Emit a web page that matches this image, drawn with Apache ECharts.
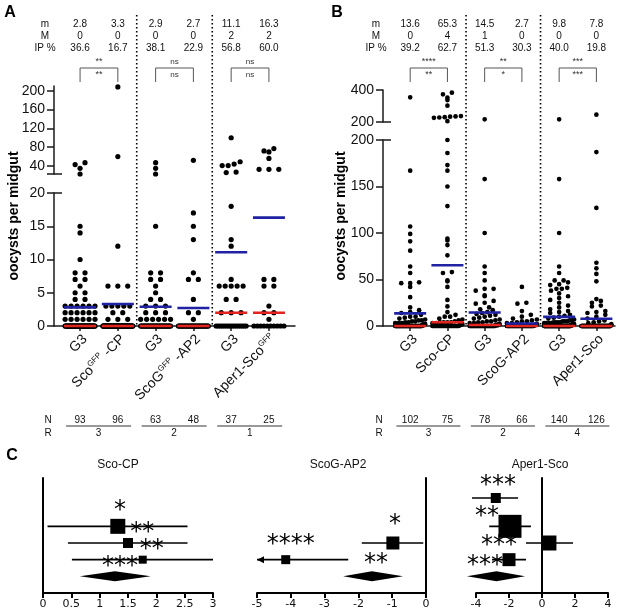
<!DOCTYPE html>
<html><head><meta charset="utf-8">
<script src="https://cdn.jsdelivr.net/npm/echarts@6/dist/echarts.min.js"></script>
<style>html,body{margin:0;padding:0;background:#fff}#c{width:617px;height:613px}</style>
</head><body><div id="c"></div>
<script>
// ================= DATA =================
const catsA = ['G3', 'Sco<sup>GFP</sup> -CP', 'G3', 'ScoG<sup>GFP</sup> -AP2', 'G3', 'Aper1-Sco<sup>GFP</sup>'];
const catsB = ['G3', 'Sco-CP', 'G3', 'ScoG-AP2', 'G3', 'Aper1-Sco'];
const statLabels = ['m', 'M', 'IP %'];
// panel A stats
const meanA = [2.8, 3.3, 2.9, 2.7, 11.1, 16.3];
const medianA = [0, 0, 0, 0, 2, 2];
const ipA = [36.6, 16.7, 38.1, 22.9, 56.8, 60.0];
const nA = [93, 96, 63, 48, 37, 25];
const rA = [3, 2, 1];
const sigTopA = ['**', 'ns', 'ns'];
const sigBotA = ['**', 'ns', 'ns'];
// panel B stats
const meanB = [13.6, 65.3, 14.5, 2.7, 9.8, 7.8];
const medianB = [0, 4, 1, 0, 0, 0];
const ipB = [39.2, 62.7, 51.3, 30.3, 40.0, 19.8];
const nB = [102, 75, 78, 66, 140, 126];
const rB = [3, 2, 4];
const sigTopB = ['****', '**', '***'];
const sigBotB = ['**', '*', '***'];
// non-zero oocyst counts per midgut (remaining N - length are zeros)
const posA0 = [47, 43, 35, 23, 15, 14, 10, 8, 8, 7, 7, 6, 5, 5, 4, 4, 3, 3, 3, 3, 3, 3, 2, 2, 2, 2, 2, 2, 1, 1, 1, 1, 1, 1];
const posA1 = [208, 60, 12, 6, 6, 6, 3, 3, 3, 3, 3, 2, 2, 1, 1, 1];
const posA2 = [47, 35, 23, 15, 8, 8, 7, 7, 6, 5, 4, 4, 3, 3, 3, 2, 2, 2, 1, 1, 1, 1, 1, 1];
const posA3 = [52, 17, 15, 13, 8, 7, 7, 4, 2, 2, 1];
const posA4 = [100, 49, 44, 41, 41, 27, 26, 18, 13, 12, 7, 6, 6, 6, 6, 6, 4, 4, 2, 2, 2];
const posA5 = [77, 72, 70, 56, 33, 33, 33, 7, 7, 6, 6, 3, 2, 2, 1];
const posB0 = [354, 167, 107, 99, 91, 81, 64, 57, 47, 46, 46, 42, 31, 20, 17, 15, 14, 12, 10, 10, 9, 8, 7, 6, 6, 5, 5, 4, 4, 3, 3, 3, 2, 2, 2, 1, 1, 1, 1, 1];
const posB1 = [383, 373, 352, 337, 302, 237, 235, 233, 230, 228, 226, 205, 200, 186, 173, 167, 150, 129, 94, 92, 87, 76, 58, 57, 49, 48, 42, 28, 21, 15, 12, 10, 10, 8, 7, 6, 5, 4, 4, 4, 4, 3, 3, 2, 2, 1, 1];
const posB2 = [217, 158, 100, 64, 57, 49, 40, 40, 38, 33, 32, 27, 25, 24, 20, 18, 17, 15, 14, 13, 12, 11, 10, 9, 8, 7, 6, 5, 5, 4, 4, 3, 3, 2, 2, 1, 1, 1, 1, 1];
const posB3 = [42, 25, 24, 16, 12, 10, 8, 7, 6, 5, 5, 4, 3, 3, 2, 2, 1, 1, 1, 1];
const posB4 = [217, 158, 100, 64, 57, 49, 49, 47, 45, 44, 41, 40, 40, 38, 35, 32, 30, 28, 25, 22, 20, 18, 16, 15, 14, 12, 11, 10, 9, 8, 7, 6, 6, 5, 5, 5, 4, 4, 4, 4, 3, 3, 3, 3, 2, 2, 2, 2, 2, 1, 1, 1, 1, 1, 1, 1];
const posB5 = [246, 187, 127, 68, 62, 56, 48, 29, 27, 25, 22, 21, 16, 15, 14, 12, 10, 8, 6, 5, 4, 3, 2, 1, 1];
// y tick labels
const yTicksAUp = [40, 80, 120, 160, 200];
const yTicksALo = [0, 5, 10, 15, 20];
const yTicksBUp = [200, 400];
const yTicksBLo = [0, 50, 100, 150, 200];
// panel C forest plots (log effect sizes)
const cTitles = ['Sco-CP', 'ScoG-AP2', 'Aper1-Sco'];
const c1Est = [1.32, 1.5, 1.76], c1Lo = [0.08, 0.44, 0.51], c1Hi = [2.55, 2.55, 3.0], c1Row = [3, 2, 1], c1W = [2.25, 1.0, 0.64], c1Sig = ['*', '**', '**'];
const c1Pool = [1.27, 0.65, 1.9], c1PoolSig = '***';
const c2Est = [-0.98, -4.15], c2Lo = [-1.9, -5.3], c2Hi = [-0.08, -2.3], c2Row = [2, 1], c2W = [1.69, 0.81], c2Sig = ['*', '****'];
const c2Pool = [-1.6, -2.45, -0.68], c2PoolSig = '**';
const c3Est = [-2.8, -1.94, 0.42, -2.0], c3Lo = [-4.24, -3.2, -0.97, -3.03], c3Hi = [-1.45, -0.67, 1.88, -0.97], c3Row = [4.7, 3, 2, 1], c3W = [1.0, 5.29, 2.25, 1.69], c3Sig = ['***', '**', '', '***'];
const c3Pool = [-2.76, -4.55, -1.03], c3PoolSig = '***';

// ================= LAYOUT =================
const FONT = "'Liberation Sans', Arial, sans-serif";
const BLUE = '#1f22a3', RED = '#e3241f', AX = '#1a1a1a';
const LA = {left: 54, width: 241, xmin: -0.69, xmax: 5.69, up: {top: 86, height: 88, min: 23, max: 210}, lo: {top: 193, height: 133, min: 0, max: 20}, r: 2.6};
const LB = {left: 383, width: 232, xmin: -0.73, xmax: 5.5, up: {top: 90, height: 32, min: 200, max: 400}, lo: {top: 140, height: 186, min: 0, max: 200}, r: 2.35};
// star annotation placement in forest plots (data coords)
const c1StarPos = [[1.36, 3.96], [1.75, 2.6], [1.92, 1.6]], c1PoolStarPos = [1.36, 0.6];
const c2StarPos = [[-0.92, 3.08], [-4.0, 1.9]], c2PoolStarPos = [-1.48, 0.78];
const c3StarPos = [[-2.67, 5.42], [-3.33, 3.56], [0, 0], [-2.6, 1.82]], c3PoolStarPos = [-3.45, 0.62];

const grids = [], xAxes = [], yAxes = [], series = [];
const lineStyle = {color: AX, width: 1.5};
function addGrid(g, x, y) {
  grids.push(Object.assign({outerBoundsMode: 'none', containLabel: false}, g));
  const gi = grids.length - 1;
  xAxes.push(Object.assign({gridIndex: gi, splitLine: {show: false}}, x));
  yAxes.push(Object.assign({gridIndex: gi, splitLine: {show: false}}, y));
  return gi;
}
function fmtCat(s) {
  return s.replace(/<sup>(.*?)<\/sup>/g, '{s|$1}');
}
function yAxisSeg(seg, labels, ticks) {
  return {
    type: 'value', min: seg.min, max: seg.max,
    axisLine: {show: true, onZero: false, lineStyle},
    axisTick: {show: true, customValues: ticks, length: 7, lineStyle},
    axisLabel: {customValues: labels, fontSize: 14, fontFamily: FONT, color: '#111', margin: 9},
  };
}
function swarm(vals, pxPerUnit, dotD) {
  const sorted = vals.slice().sort((a, b) => a - b);
  const bins = new Map();
  sorted.forEach(v => {
    const k = Math.round(v * pxPerUnit / dotD);
    if (!bins.has(k)) bins.set(k, []);
    bins.get(k).push(v);
  });
  const out = [];
  bins.forEach(list => {
    const n = list.length;
    const sp = n <= 3 ? dotD * 1.9 : Math.min(dotD * 1.15, 30 / (n - 1));
    list.forEach((v, i) => out.push([v, (i - (n - 1) / 2) * sp]));
  });
  return out;
}
function dotRender(r) {
  return (p, api) => {
    const c = api.coord([api.value(0), api.value(1)]);
    return {type: 'circle', shape: {cx: c[0] + api.value(2), cy: c[1], r: r}, style: {fill: '#000'}};
  };
}
function barRender(halfW, color) {
  return (p, api) => {
    const c = api.coord([api.value(0), api.value(1)]);
    return {type: 'line', shape: {x1: c[0] - halfW, y1: c[1], x2: c[0] + halfW, y2: c[1]}, style: {stroke: color, lineWidth: 2.6}};
  };
}

function buildPanel(L, cats, pos, Ns, means, medians, yUpLabels, yUpTicks, yLoLabels, yLoTicks) {
  const idx = cats.map((_, i) => i);
  const gUp = addGrid({left: L.left, top: L.up.top, width: L.width, height: L.up.height},
    {type: 'value', min: L.xmin, max: L.xmax, show: false},
    yAxisSeg(L.up, yUpLabels, yUpTicks));
  const gLo = addGrid({left: L.left, top: L.lo.top, width: L.width, height: L.lo.height},
    {type: 'value', min: L.xmin, max: L.xmax,
      axisLine: {show: true, onZero: false, lineStyle},
      axisTick: {show: true, customValues: idx, length: 5, lineStyle},
      axisLabel: {show: false}},
    yAxisSeg(L.lo, yLoLabels, yLoTicks));
  const upPx = L.up.height / (L.up.max - L.up.min), loPx = L.lo.height / (L.lo.max - L.lo.min);
  const upData = [], loData = [];
  pos.forEach((vals, ci) => {
    const all = vals.concat(new Array(Ns[ci] - vals.length).fill(0));
    const up = all.filter(v => v > L.lo.max), lo = all.filter(v => v <= L.lo.max);
    swarm(up, upPx, L.r * 2).forEach(([v, o]) => upData.push([ci, v, o]));
    swarm(lo, loPx, L.r * 2).forEach(([v, o]) => loData.push([ci, v, o]));
  });
  const base = {type: 'custom', coordinateSystem: 'cartesian2d', clip: false, silent: true};
  series.push(Object.assign({}, base, {xAxisIndex: gUp, yAxisIndex: gUp, data: upData, renderItem: dotRender(L.r), z: 2}));
  series.push(Object.assign({}, base, {xAxisIndex: gLo, yAxisIndex: gLo, data: loData, renderItem: dotRender(L.r), z: 2}));
  series.push(Object.assign({}, base, {xAxisIndex: gLo, yAxisIndex: gLo, data: medians.map((m, i) => [i, m]), renderItem: barRender(16, RED), z: 3}));
  series.push(Object.assign({}, base, {xAxisIndex: gLo, yAxisIndex: gLo, data: means.map((m, i) => [i, m]), renderItem: barRender(16, BLUE), z: 4}));
  return {gUp, gLo};
}

const pA = buildPanel(LA, catsA, [posA0, posA1, posA2, posA3, posA4, posA5], nA, meanA, medianA,
  yTicksAUp, [LA.up.min].concat(yTicksAUp), yTicksALo, yTicksALo);
const pB = buildPanel(LB, catsB, [posB0, posB1, posB2, posB3, posB4, posB5], nB, meanB, medianB,
  yTicksBUp, yTicksBUp, yTicksBLo, yTicksBLo);

// ---- Forest plots ----
const starFont = "24px 'DejaVu Sans', sans-serif";
function forest(grid, xr, est, lo, hi, row, w, sig, pool, poolSig, starPos, poolStarPos, arrowLeft) {
  const gi = addGrid(Object.assign({top: 478, height: 115}, grid),
    {type: 'value', min: xr[0], max: xr[1], interval: xr[2],
      axisLine: {show: true, onZero: false, lineStyle: {color: '#000', width: 2}},
      axisTick: {show: true, length: 5, lineStyle: {color: '#000', width: 2}},
      axisLabel: {fontSize: 11, fontFamily: "'DejaVu Sans', sans-serif", color: '#111', margin: 6}},
    {type: 'value', min: -1, max: 5.9,
      axisLine: {show: true, onZero: true, lineStyle: {color: '#000', width: 2}},
      axisTick: {show: false}, axisLabel: {show: false}});
  const xmin = xr[0];
  const base = {type: 'custom', coordinateSystem: 'cartesian2d', xAxisIndex: gi, yAxisIndex: gi, clip: false, silent: true};
  series.push(Object.assign({}, base, {
    data: est.map((e, i) => [e, lo[i], hi[i], row[i], w[i]]), encode: {x: 0, y: 3},
    renderItem: (p, api) => {
      const e = api.value(0), l = api.value(1), h = api.value(2), r = api.value(3), wt = api.value(4);
      const cut = arrowLeft && l < xmin;
      const a = api.coord([cut ? xmin : l, r]), b = api.coord([h, r]), c = api.coord([e, r]);
      const s = Math.sqrt(wt) * 10;
      const ch = [
        {type: 'line', shape: {x1: a[0], y1: a[1], x2: b[0], y2: b[1]}, style: {stroke: '#000', lineWidth: 1.7}},
        {type: 'rect', shape: {x: c[0] - s / 2, y: c[1] - s / 2, width: s, height: s}, style: {fill: '#000'}}
      ];
      if (cut) ch.push({type: 'polygon', shape: {points: [[a[0], a[1]], [a[0] + 7, a[1] - 3.5], [a[0] + 7, a[1] + 3.5]]}, style: {fill: '#000'}});
      return {type: 'group', children: ch};
    }
  }));
  series.push(Object.assign({}, base, {
    data: [pool], encode: {x: 0},
    renderItem: (p, api) => {
      const a = api.coord([api.value(1), 0]), b = api.coord([api.value(2), 0]), c = api.coord([api.value(0), 0]);
      return {type: 'polygon', shape: {points: [[a[0], a[1]], [c[0], c[1] - 5], [b[0], b[1]], [c[0], c[1] + 5]]}, style: {fill: '#000'}};
    }
  }));
  const stars = sig.map((t, i) => [starPos[i][0], starPos[i][1], t]).filter(d => d[2]);
  stars.push([poolStarPos[0], poolStarPos[1], poolSig]);
  series.push(Object.assign({}, base, {
    data: stars, encode: {x: 0, y: 1},
    renderItem: (p, api) => {
      const c = api.coord([api.value(0), api.value(1)]);
      return {type: 'text', x: c[0], y: c[1], style: {text: stars[p.dataIndex][2], font: starFont, fill: '#000', textAlign: 'center', textVerticalAlign: 'middle', align: 'center', verticalAlign: 'middle'}};
    }
  }));
  return gi;
}
const gC1 = forest({left: 43, width: 170}, [0, 3, 0.5], c1Est, c1Lo, c1Hi, c1Row, c1W, c1Sig, c1Pool, c1PoolSig, c1StarPos, c1PoolStarPos, false);
const gC2 = forest({left: 257, width: 169}, [-5, 0, 1], c2Est, c2Lo, c2Hi, c2Row, c2W, c2Sig, c2Pool, c2PoolSig, c2StarPos, c2PoolStarPos, true);
const gC3 = forest({left: 476, width: 132}, [-4, 4, 2], c3Est, c3Lo, c3Hi, c3Row, c3W, c3Sig, c3Pool, c3PoolSig, c3StarPos, c3PoolStarPos, false);

const chart = echarts.init(document.getElementById('c'));
chart.setOption({animation: false, backgroundColor: '#fff', grid: grids, xAxis: xAxes, yAxis: yAxes, series: series});

// ---- annotations positioned through the axes ----
const G = [];
function txt(x, y, text, font, fill) {
  G.push({type: 'text', x: x, y: y, silent: true, style: {text: text, font: font, fill: fill || '#111', textAlign: 'center', textVerticalAlign: 'middle', align: 'center', verticalAlign: 'middle'}});
}
function seg(x1, y1, x2, y2, st) {
  G.push({type: 'line', silent: true, shape: {x1, y1, x2, y2}, style: Object.assign({stroke: AX, lineWidth: 1.5}, st || {})});
}
const f10 = '10px ' + FONT;
function annotate(L, p, cats, means, medians, ips, Ns, Rs, sigT, sigB, labelX, yTitleX, letter, letterX) {
  const X = v => chart.convertToPixel({gridIndex: p.gLo}, [v, 0])[0];
  const Yup = v => chart.convertToPixel({gridIndex: p.gUp}, [0, v])[1];
  const Ylo = v => chart.convertToPixel({gridIndex: p.gLo}, [0, v])[1];
  txt(letterX, 12.5, letter, 'bold 16px ' + FONT, '#000');
  const rowsY = [24, 36, 48];
  statLabels.forEach((s, k) => txt(labelX, rowsY[k], s, f10));
  means.forEach((m, i) => {
    txt(X(i), rowsY[0], m.toFixed(1), f10);
    txt(X(i), rowsY[1], String(medians[i]), f10);
    txt(X(i), rowsY[2], ips[i].toFixed(1), f10);
    txt(X(i), 420, String(Ns[i]), f10);
  });
  // rotated category labels
  cats.forEach((c, i) => {
    G.push({type: 'text', x: X(i) + 5, y: Ylo(0) + 11, rotation: Math.PI / 4, silent: true,
      style: {text: fmtCat(c), font: '14px ' + FONT, fill: '#111', lineHeight: 16, textAlign: 'right', textVerticalAlign: 'middle', align: 'right', verticalAlign: 'middle',
        rich: {s: {fontSize: 8, fontFamily: FONT, fill: '#111', verticalAlign: 'top', lineHeight: 8}}}});
  });
  Rs.forEach((r, k) => {
    const a = X(2 * k), b = X(2 * k + 1);
    G.push({type: 'polyline', silent: true, shape: {points: [[a, 82], [a, 68], [b, 68], [b, 82]]}, style: {stroke: '#555', lineWidth: 1, fill: null}});
    const fs = sigT[k] === 'ns' ? '8px ' + FONT : '9px ' + FONT;
    txt((a + b) / 2, 62, sigT[k], fs, '#333');
    txt((a + b) / 2, 75, sigB[k], fs, '#333');
    const l1 = X(2 * k - 0.37), l2 = X(2 * k + 1.35);
    seg(l1, 426, l2, 426, {stroke: '#777', lineWidth: 1.5});
    txt((l1 + l2) / 2, 433.5, String(r), f10);
  });
  txt(labelX + 3, 420, 'N', f10);
  txt(labelX + 3, 433.5, 'R', f10);
  [1.5, 3.5].forEach(v => seg(X(v), 15, X(v), Ylo(0), {stroke: '#000', lineWidth: 1.6, lineDash: [1.6, 2.4]}));
  // broken-axis caps
  seg(L.left, Yup(L.up.min), L.left + 8, Yup(L.up.min));
  seg(L.left, Ylo(L.lo.max), L.left + 8, Ylo(L.lo.max));
  G.push({type: 'text', x: yTitleX, y: 216, rotation: Math.PI / 2, silent: true,
    style: {text: 'oocysts per midgut', font: 'bold 14px ' + FONT, fill: '#000', textAlign: 'center', textVerticalAlign: 'middle', align: 'center', verticalAlign: 'middle'}});
}
annotate(LA, pA, catsA, meanA, medianA, ipA, nA, rA, sigTopA, sigBotA, 45, 14, 'A', 10);
annotate(LB, pB, catsB, meanB, medianB, ipB, nB, rB, sigTopB, sigBotB, 376, 341, 'B', 337);
txt(12, 456, 'C', 'bold 16px ' + FONT, '#000');
const titleX = [118, 338, 540];
cTitles.forEach((t, i) => txt(titleX[i], 465, t, '12px ' + FONT));
chart.setOption({graphic: {elements: G}});
</script>
</body></html>
